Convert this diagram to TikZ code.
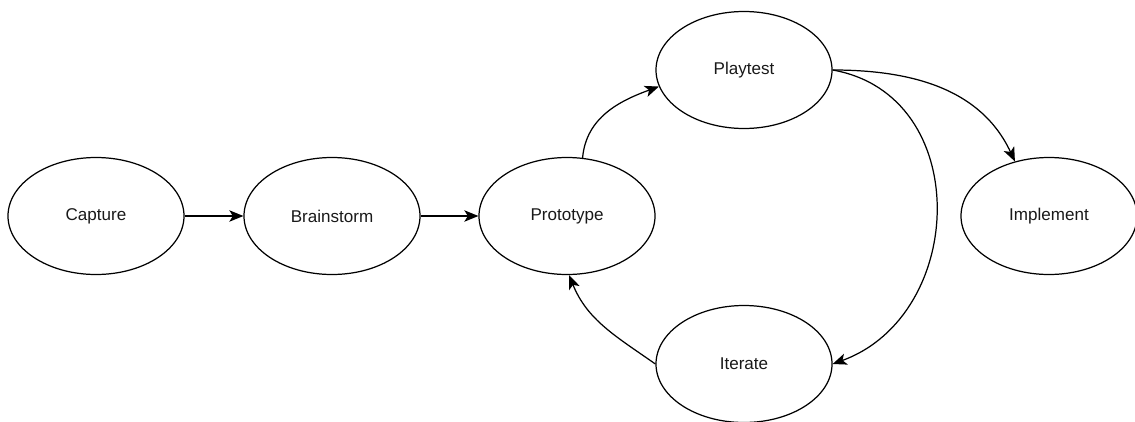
\documentclass[tikz,border=0pt]{standalone}
\usepackage{fontspec}
\setmainfont{Liberation Sans}
\usetikzlibrary{arrows.meta,shapes.geometric}

\begin{document}
\begin{tikzpicture}[
  stage/.style={draw, ellipse, line width=0.7pt, minimum width=3.52cm, minimum height=2.34cm, inner sep=0pt, font=\fontsize{9.7}{12}\selectfont, text=black!90},
  flow/.style={-{Stealth[length=8pt,width=6.5pt,inset=2pt]}, line width=0.7pt}
]
  \useasboundingbox (0,0) rectangle (22.7,8.42);

  % Capture
  \node[stage] (capture) at (1.92,4.10) {Capture};

  % Brainstorm
  \node[stage] (brain) at (6.64,4.10) {Brainstorm};

  % Prototype
  \node[stage] (proto) at (11.34,4.10) {Prototype};

  % Playtest
  \node[stage] (play) at (14.88,7.02) {Playtest};

  % Iterate
  \node[stage] (iter) at (14.88,1.14) {Iterate};

  % Implement
  \node[stage] (impl) at (20.98,4.10) {Implement};

  % Connections
  \draw[flow] (capture) -- (brain);
  \draw[flow] (brain) -- (proto);
  \draw[flow] (proto.75) to[out=85,in=200] (play.191);
  \draw[flow] (play.east) to[out=0,in=115] (impl.122);
  \draw[flow] (play.east) to[out=-10,in=20,looseness=1.25] (iter.east);
  \draw[flow] (iter.west) to[out=145,in=-68] (proto.-88);
\end{tikzpicture}
\end{document}
